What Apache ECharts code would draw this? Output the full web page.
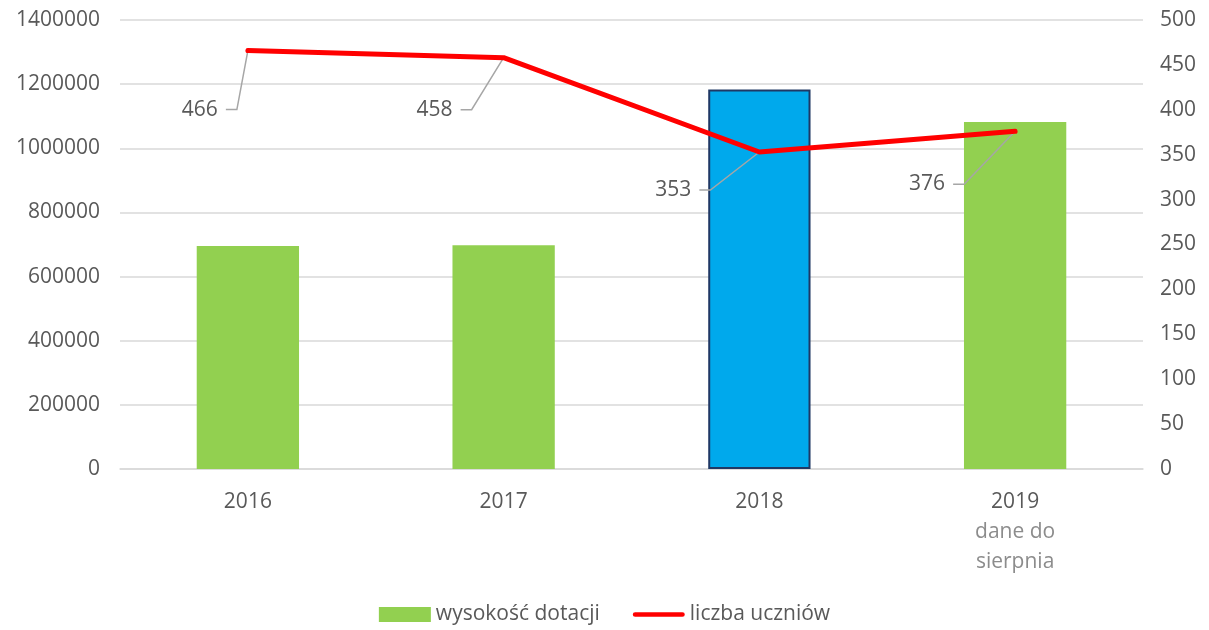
<!DOCTYPE html>
<html>
<head>
<meta charset="utf-8">
<script src="https://cdn.jsdelivr.net/npm/echarts@6/dist/echarts.min.js"></script>
<style>
  html, body { margin: 0; padding: 0; background: #fff; }
  #chart { width: 1209px; height: 630px; }
</style>
</head>
<body>
<div id="chart"></div>
<script>
var years = ["2016", "2017", "2018", "2019"];
var dotacje = [695000, 698000, 1183000, 1082000];
var uczniowie = [466, 458, 353, 376];
var leftTicks = [0, 1400000, 200000];
var rightTicks = [0, 500, 50];

// przesuniecie etykiet liczby uczniow wzgledem punktu (jak w oryginale)
var labelShift = [[-30, 59], [-51, 52], [-68, 38], [-70, 53]];

var font = "Open Sans";
var grey = "#595959";
var fs = 21;

var chart = echarts.init(document.getElementById("chart"));

var barData = dotacje.map(function(v, i) {
  if (i === 2) {
    return { value: v, itemStyle: { color: "#00a9ec", borderColor: "#1f3864", borderWidth: 2 } };
  }
  return v;
});

// etykiety z linia odniesienia
function renderLabel(params, api) {
  var v = api.value(1);
  var p = api.coord([api.value(0), v]);
  var s = labelShift[params.dataIndex];
  var lx = p[0] + s[0], ly = p[1] + s[1];
  return {
    type: "group",
    children: [
      {
        type: "polyline",
        shape: { points: [p, [lx + 19, ly], [lx + 8, ly]] },
        style: { stroke: "#a6a6a6", lineWidth: 1.5, fill: null }
      },
      {
        type: "text",
        x: lx,
        y: ly,
        style: {
          text: String(v),
          align: "right",
          verticalAlign: "middle",
          fontFamily: font,
          fontSize: fs,
          fill: grey
        }
      }
    ]
  };
}

var option = {
  animation: false,
  textStyle: { fontFamily: font },
  grid: { left: 120, right: 66, top: 20, bottom: 161 },
  legend: {
    bottom: 0,
    left: "center",
    itemWidth: 52,
    itemHeight: 15,
    itemGap: 33,
    textStyle: { fontFamily: font, fontSize: fs, color: grey },
    data: [
      { name: "wysokość dotacji", icon: "rect" },
      { name: "liczba uczniów", icon: "path://M2.5,0 L52.5,0 A2.5,2.5 0 0 1 52.5,5 L2.5,5 A2.5,2.5 0 0 1 2.5,0 Z" }
    ]
  },
  xAxis: {
    type: "category",
    data: years,
    axisTick: { show: false },
    axisLine: { lineStyle: { color: "#d9d9d9", width: 1.5 } },
    axisLabel: {
      fontFamily: font,
      fontSize: fs,
      color: grey,
      margin: 18,
      lineHeight: 30,
      formatter: function(v) {
        if (v === "2019") return v + "\n{sub|dane do}\n{sub|sierpnia}";
        return v;
      },
      rich: {
        sub: { fontFamily: font, fontSize: fs, color: "#8c8c8c", lineHeight: 30 }
      }
    }
  },
  yAxis: [
    {
      type: "value",
      min: leftTicks[0],
      max: leftTicks[1],
      interval: leftTicks[2],
      axisLine: { show: false },
      axisTick: { show: false },
      splitLine: { lineStyle: { color: "#d9d9d9", width: 1.5 } },
      axisLabel: {
        fontFamily: font, fontSize: fs, color: grey, margin: 20,
        formatter: function(v) { return String(v); }
      }
    },
    {
      type: "value",
      min: rightTicks[0],
      max: rightTicks[1],
      interval: rightTicks[2],
      axisLine: { show: false },
      axisTick: { show: false },
      splitLine: { show: false },
      axisLabel: { fontFamily: font, fontSize: fs, color: grey, margin: 17 }
    }
  ],
  series: [
    {
      name: "wysokość dotacji",
      type: "bar",
      barWidth: "40%",
      itemStyle: { color: "#92d050" },
      data: barData
    },
    {
      name: "etykiety",
      type: "custom",
      yAxisIndex: 1,
      renderItem: renderLabel,
      data: uczniowie.map(function(v, i) { return [i, v]; }),
      z: 4
    },
    {
      name: "liczba uczniów",
      type: "line",
      yAxisIndex: 1,
      symbol: "none",
      itemStyle: { color: "#ff0000" },
      lineStyle: { color: "#ff0000", width: 5, cap: "round", join: "round" },
      data: uczniowie,
      z: 5
    }
  ]
};

chart.setOption(option);
</script>
</body>
</html>
